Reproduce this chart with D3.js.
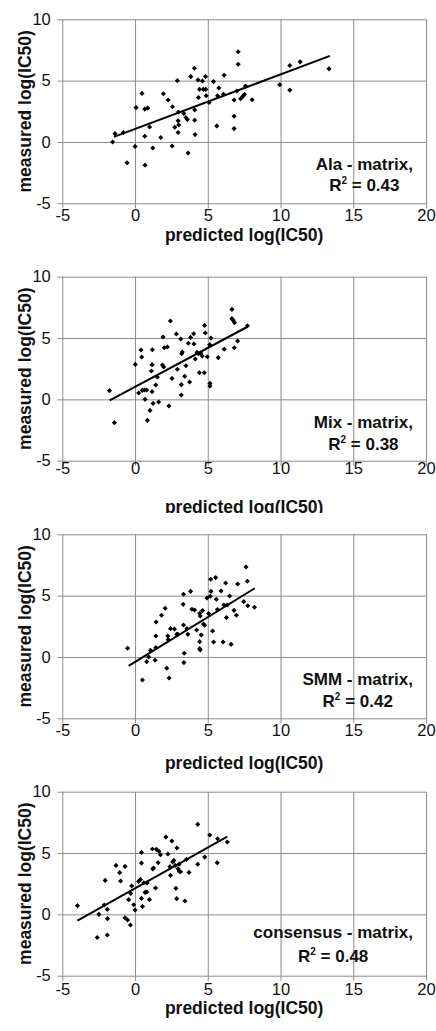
<!DOCTYPE html>
<html>
<head>
<meta charset="utf-8">
<script src="https://cdn.jsdelivr.net/npm/d3@7"></script>
<style>
  body { margin: 0; background: #fff; }
  svg { display: block; font-family: "Liberation Sans", Arial, sans-serif; }
</style>
</head>
<body>
<div id="chart"></div>
<script>
// Canvas size
const width = 436;
const height = 1031;

// Axis ticks and titles
const xTicks = [-5, 0, 5, 10, 15, 20];
const yTicks = [-5, 0, 5, 10];
const xTitle = "predicted log(IC50)";
const yTitle = "measured log(IC50)";

// Panel labels
const matrixNames = ["Ala - matrix,", "Mix - matrix,", "SMM - matrix,", "consensus - matrix,"];
const r2Values = ["0.43", "0.38", "0.42", "0.48"];

// Measured vs predicted, one array per matrix
const alaPoints = [
  [-1.54, 0], [-1.38, 0.68], [-0.8, 0.77], [-0.55, -1.7], [0, -0.36], [0.07, 2.8],
  [0.48, 3.96], [0.67, 2.68], [0.87, 2.76], [0.67, 0.46], [0.69, -1.89], [1.0, 1.23],
  [1.22, -0.49], [1.77, 0.36], [1.95, 3.93], [2.27, 3.42], [2.57, 2.87], [2.55, -0.33],
  [2.73, 1.2], [2.91, 5.0], [2.98, 2.43], [2.96, 1.72], [3.0, 1.39], [2.96, 0.77],
  [3.35, 2.32], [3.49, 2.0], [3.6, 1.83], [3.65, -0.9], [3.83, 5.33], [4.08, 6.01],
  [4.1, 2.62], [4.1, 1.78], [4.13, 0.6], [4.33, 5.05], [4.36, 3.63], [4.43, 4.29],
  [4.63, 4.97], [4.7, 4.29], [4.84, 5.33], [4.86, 4.29], [4.89, 3.77], [5.09, 3.22],
  [5.39, 4.92], [5.62, 1.31], [5.67, 3.77], [5.76, 4.4], [6.08, 3.88], [6.12, 5.44],
  [6.81, 3.42], [6.81, 2.1], [6.81, 1.09], [7.0, 4.15], [7.09, 7.35], [7.09, 6.34],
  [7.25, 3.52], [7.41, 3.72], [7.52, 3.88], [7.59, 4.56], [8.05, 3.44], [9.95, 4.67],
  [10.64, 6.23], [10.64, 4.23], [11.35, 6.53], [13.33, 5.96]
];
const mixPoints = [
  [-1.76, 0.71], [-1.42, -1.9], [0.02, 2.85], [0.25, 0.52], [0.41, 4.02], [0.46, 3.45],
  [0.5, 0.73], [0.64, 0.76], [0.69, 0], [0.8, 0.76], [0.85, -1.71], [1.03, -0.9],
  [1.12, 2.31], [1.17, 2.83], [1.19, 4.05], [1.17, 0.63], [1.24, -0.33], [1.42, 1.17],
  [1.53, 1.82], [1.62, -0.22], [1.88, 2.8], [1.97, 2.64], [1.92, 5.08], [2.01, 4.21],
  [2.22, 4.27], [2.33, -0.54], [2.43, 6.39], [2.54, 1.71], [2.84, 5.33], [2.91, 2.45],
  [3.14, 4.92], [3.18, 0.35], [3.18, 1.2], [3.2, 3.72], [3.25, 3.86], [3.41, 1.88],
  [3.5, 2.74], [3.66, 4.57], [3.75, 1.41], [3.82, 5.05], [4.03, 5.35], [4.05, 4.51],
  [4.14, 3.29], [4.26, 3.83], [4.37, 3.72], [4.42, 2.17], [4.51, 3.78], [4.62, 3.53],
  [4.76, 2.17], [4.78, 6.03], [4.83, 5.41], [4.97, 3.48], [5.13, 4.46], [5.15, 1.3],
  [5.15, 1.09], [5.22, 5.0], [5.72, 3.4], [6.13, 4.08], [6.66, 7.34], [6.66, 6.58],
  [6.75, 6.44], [6.84, 6.25], [6.82, 4.21], [7.05, 4.76], [7.73, 6.0]
];
const smmPoints = [
  [-0.51, 0.71], [0.51, -1.88], [0.8, -0.38], [0.94, 0], [1.06, 0.54], [1.38, -0.27],
  [1.43, 0.76], [1.43, 1.71], [1.45, 2.85], [1.82, 3.4], [2.07, 3.97], [2.34, -1.71],
  [2.18, -0.92], [2.25, 1.71], [2.28, 1.41], [2.44, 2.31], [2.71, 2.28], [2.87, 1.85],
  [2.94, 1.85], [3.31, 4.29], [3.33, 5.11], [3.33, 2.61], [3.38, 0.3], [3.36, -0.46],
  [3.56, 2.31], [3.63, 1.85], [3.82, 5.35], [3.91, 3.89], [4.09, 3.83], [4.23, 2.2],
  [4.44, 3.56], [4.48, 3.34], [4.44, 1.25], [4.44, 0.68], [4.48, 0.57], [4.55, 1.79],
  [4.64, 3.78], [4.71, 2.69], [4.78, 2.58], [4.94, 4.81], [5.06, 3.53], [5.17, 4.95],
  [5.22, 5.35], [5.2, 6.33], [5.33, 2.12], [5.4, 1.22], [5.54, 6.47], [5.59, 4.7],
  [5.66, 3.86], [5.91, 5.38], [6.05, 1.22], [6.11, 4.24], [6.23, 6.03], [6.28, 3.21],
  [6.34, 4.24], [6.5, 4.97], [6.6, 1.03], [6.8, 3.8], [6.97, 3.4], [7.06, 5.95],
  [7.47, 4.51], [7.63, 7.34], [7.72, 6.17], [7.75, 4.18], [8.21, 4.05]
];
const consensusPoints = [
  [-3.96, 0.71], [-2.6, -1.88], [-2.49, 0], [-2.12, 0.76], [-2.05, 2.77], [-1.89, -0.35],
  [-1.91, 0.41], [-1.91, -1.68], [-1.31, 3.99], [-1.06, 3.4], [-0.99, 2.72], [-0.69, 3.91],
  [-0.69, -0.27], [-0.51, -0.46], [-0.32, -0.87], [-0.44, 1.2], [-0.3, 1.71], [-0.23, 2.31],
  [-0.09, 0.79], [0, 0.35], [0.25, 2.69], [0.37, 2.85], [0.44, 5.05], [0.44, 4.18],
  [0.44, 1.3], [0.51, 0.65], [0.6, 2.58], [0.69, 1.79], [0.81, 1.82], [0.83, 2.55],
  [0.99, 1.2], [1.2, 5.33], [1.22, 3.7], [1.27, 3.78], [1.41, 2.15], [1.47, 5.3],
  [1.59, 4.21], [1.64, 5.14], [1.75, 4.86], [2.12, 6.3], [2.26, 4.92], [2.4, 3.89],
  [2.44, 3.18], [2.53, 5.98], [2.58, 4.27], [2.67, 4.4], [2.76, 3.99], [2.81, 2.12],
  [2.86, 1.28], [2.88, 5.41], [2.95, 3.72], [3.02, 4.08], [3.04, 3.51], [3.13, 3.48],
  [3.43, 1.09], [3.53, 4.48], [3.71, 3.42], [4.31, 7.34], [4.31, 4.08], [4.79, 4.67],
  [5.14, 6.47], [5.67, 6.17], [5.65, 4.21], [6.34, 5.9]
];

// Linear trend lines (end points)
const alaTrend = [[-1.45, 0.41], [13.4, 7.02]];
const mixTrend = [[-1.74, -0.08], [7.73, 5.92]];
const smmTrend = [[-0.44, -0.73], [8.23, 5.6]];
const consensusTrend = [[-3.96, -0.52], [6.34, 6.33]];

const panelPoints = [alaPoints, mixPoints, smmPoints, consensusPoints];
const panelTrends = [alaTrend, mixTrend, smmTrend, consensusTrend];

// Layout of each cropped panel
const panelTops = [19.3, 276.7, 534.3, 791.7];
const plotH = 184;
const plotLeft = 62.3, plotRight = 426;
const tickOut = 5;
const xLabelPad = [1, -3, 0.6, 2.6];
const titleOffset = [37.7, 52.7, 50.6, 38.3];
const noteOffsets = [[150.7, 171.5], [151, 173], [151, 173], [146.5, 170]];
const titleClip = [null, 513, null, null];
const gridColor = "#8c8c8c";

const svg = d3.select("#chart")
  .append("svg")
  .attr("width", width)
  .attr("height", height);

const x = d3.scaleLinear().domain([-5, 20]).range([plotLeft, plotRight]);

panelPoints.forEach(function (points, i) {
  const top = panelTops[i];
  const y = d3.scaleLinear().domain([-5, 10]).range([top + plotH, top]);
  const g = svg.append("g");

  // vertical grid + x tick labels
  const xAxis = g.append("g")
    .attr("transform", `translate(0,${top + plotH + tickOut})`)
    .call(d3.axisBottom(x)
      .tickValues(xTicks)
      .tickSizeInner(-(plotH + tickOut))
      .tickSizeOuter(0)
      .tickPadding(xLabelPad[i])
      .tickFormat(d => String(d)));

  // horizontal grid + y tick labels
  const yAxis = g.append("g")
    .attr("transform", `translate(${plotLeft - tickOut},0)`)
    .call(d3.axisLeft(y)
      .tickValues(yTicks)
      .tickSizeInner(-(plotRight - plotLeft + tickOut))
      .tickSizeOuter(0)
      .tickPadding(6.5)
      .tickFormat(d => String(d)));

  [xAxis, yAxis].forEach(function (ax) {
    ax.select(".domain").remove();
    ax.selectAll(".tick line").attr("stroke", gridColor).attr("stroke-width", 1);
    ax.selectAll(".tick text")
      .attr("fill", "#111")
      .style("font-size", "16.5px")
      .style("font-family", "'Liberation Sans', Arial, sans-serif");
  });

  // trend line
  g.append("path")
    .datum(panelTrends[i])
    .attr("fill", "none")
    .attr("stroke", "#000")
    .attr("stroke-width", 2)
    .attr("d", d3.line().x(d => x(d[0])).y(d => y(d[1])));

  // data points as small diamonds
  g.selectAll(".pt")
    .data(points)
    .enter().append("path")
    .attr("class", "pt")
    .attr("d", d3.symbol().type(d3.symbolSquare).size(13))
    .attr("transform", d => `translate(${x(d[0])},${y(d[1])}) rotate(45)`)
    .attr("fill", "#000");

  // x title (clipped where the panel was cropped)
  const xt = g.append("text")
    .attr("x", (plotLeft + plotRight) / 2)
    .attr("y", top + plotH + titleOffset[i])
    .attr("text-anchor", "middle")
    .style("font-size", "17.5px")
    .style("font-weight", "bold")
    .attr("fill", "#111")
    .text(xTitle);
  if (titleClip[i] !== null) {
    const id = "clip" + i;
    svg.append("clipPath").attr("id", id)
      .append("rect")
      .attr("x", 0).attr("y", 0)
      .attr("width", width).attr("height", titleClip[i]);
    xt.attr("clip-path", `url(#${id})`);
  }

  // y title
  g.append("text")
    .attr("transform", `translate(31,${top + plotH / 2}) rotate(-90)`)
    .attr("text-anchor", "middle")
    .style("font-size", "17.5px")
    .style("font-weight", "bold")
    .attr("fill", "#111")
    .text(yTitle);

  // matrix name and R squared
  const note1 = g.append("text")
    .attr("x", 413)
    .attr("y", top + noteOffsets[i][0])
    .attr("text-anchor", "end")
    .style("font-size", "17px")
    .style("font-weight", "bold")
    .attr("fill", "#111")
    .text(matrixNames[i]);
  const len = note1.node().getComputedTextLength();

  const note2 = g.append("text")
    .attr("x", 413 - len / 2)
    .attr("y", top + noteOffsets[i][1])
    .attr("text-anchor", "middle")
    .style("font-size", "17px")
    .style("font-weight", "bold")
    .attr("fill", "#111");
  note2.append("tspan").text("R");
  note2.append("tspan").attr("dy", -7).style("font-size", "10px").text("2");
  note2.append("tspan").attr("dy", 7).text(" = " + r2Values[i]);
});
</script>
</body>
</html>
